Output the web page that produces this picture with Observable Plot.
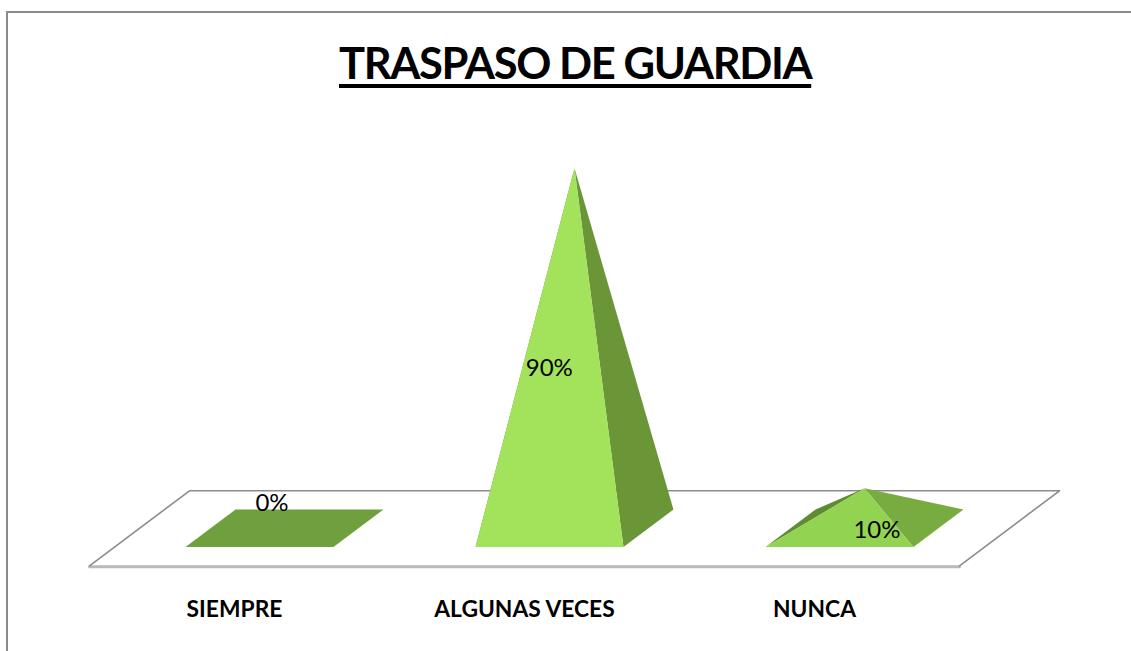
<!DOCTYPE html>
<html><head><meta charset="utf-8">
<style>
html,body{margin:0;padding:0;background:#fff;overflow:hidden}
#page{position:relative;width:1131px;height:651px;overflow:hidden}
#border{position:absolute;left:6px;top:11px;right:-5px;bottom:-5px;border:2px solid #8a8a8a;box-sizing:border-box}
#title{position:relative;height:100px;margin:0;box-sizing:border-box}
#title span{position:absolute;left:339px;top:36px;font:700 43.5px/52px "Lato",sans-serif;letter-spacing:-1.4px;color:#000;text-decoration:underline;text-decoration-thickness:3.5px;text-underline-offset:5px;white-space:nowrap}
svg{display:block;position:relative}
</style>
<script src="https://cdn.jsdelivr.net/npm/d3@7"></script>
<script src="https://cdn.jsdelivr.net/npm/@observablehq/plot@0.6"></script>
</head><body>
<div id="page"><div id="border"></div><h1 id="title"><span>TRASPASO DE GUARDIA</span></h1><div id="chart"></div></div>
<script>
const categories = ["SIEMPRE", "ALGUNAS VECES", "NUNCA"];
const values = [0, 90, 10];
const percentLabels = ["0%", "90%", "10%"];
const frontColors = ["#70a03d", "#a2e35b", "#92d351"];
const rightColors = ["#70a03d", "#6a9638", "#79ac40"];
const leftColors = ["#70a03d", "#5f8b33", "#5f8b33"];

// oblique projection of the floor depth, in scale units
const depthX = 100 / 290, depthY = 18.75;
const halfWidth = 0.255;
const proj = (i, dx, d, v) => ({x: i + 0.5 + dx + d * depthX, y: v + d * depthY});
const floorX = (x, d) => ({x: x + d * depthX, y: d * depthY});

const faces = [];
categories.forEach((c, i) => {
  const v = values[i];
  const fl = proj(i, -halfWidth, .25, 0), fr = proj(i, halfWidth, .25, 0);
  const bl = proj(i, -halfWidth, .75, 0), br = proj(i, halfWidth, .75, 0);
  const apex = proj(i, 0, .5, v);
  const add = (name, color, pts) => pts.forEach(p => faces.push({...p, id: c + name, color}));
  if (v === 0) add("base", frontColors[i], [fl, fr, br, bl, fl]);
  else {
    add("left", leftColors[i], [fl, bl, apex, fl]);
    add("right", rightColors[i], [fr, br, apex, fr]);
    add("front", frontColors[i], [fl, fr, apex, fl]);
  }
});

const floorBack = [floorX(0, 0), floorX(0, 1), floorX(3, 1), floorX(3, 0)];
const floorFront = [floorX(0, 0), floorX(3, 0)];

// label anchors in scale units, relative to each pyramid's mid-height centre
const labelShift = [[-0.043, 6.25], [-0.087, -4.9], [0.043, -5.5]];
const labels = categories.map((c, i) => {
  const p = proj(i, 0, .5, values[i] / 2);
  return {x: p.x + labelShift[i][0], y: p.y + labelShift[i][1], t: percentLabels[i]};
});

const chart = Plot.plot({
  width: 1131, height: 551,
  marginTop: 0, marginRight: 0, marginBottom: 0, marginLeft: 0,
  x: {domain: [0, 3], range: [89, 959], axis: null},
  y: {domain: [0, 100], range: [465.3, 65.3], axis: null},
  color: {type: "identity"},
  style: {background: "transparent", overflow: "visible"},
  marks: [
    Plot.line(floorFront, {x: "x", y: "y", stroke: "#b9b9b9", strokeWidth: 3, dy: 1}),
    Plot.line(floorBack, {x: "x", y: "y", stroke: "#8c8c8c", strokeWidth: 1.6}),
    Plot.line(faces, {x: "x", y: "y", z: "id", fill: "color", stroke: "none"}),
    Plot.text(labels, {x: "x", y: "y", text: "t", fontFamily: "Lato", fontSize: 24, fill: "#000"}),
    Plot.text(categories, {x: (d, i) => i + 0.5, y: -11, text: d => d, fontFamily: "Lato", fontWeight: 700, fontSize: 22.8, fill: "#000"})
  ]
});
document.getElementById("chart").appendChild(chart);
</script>
</body></html>
